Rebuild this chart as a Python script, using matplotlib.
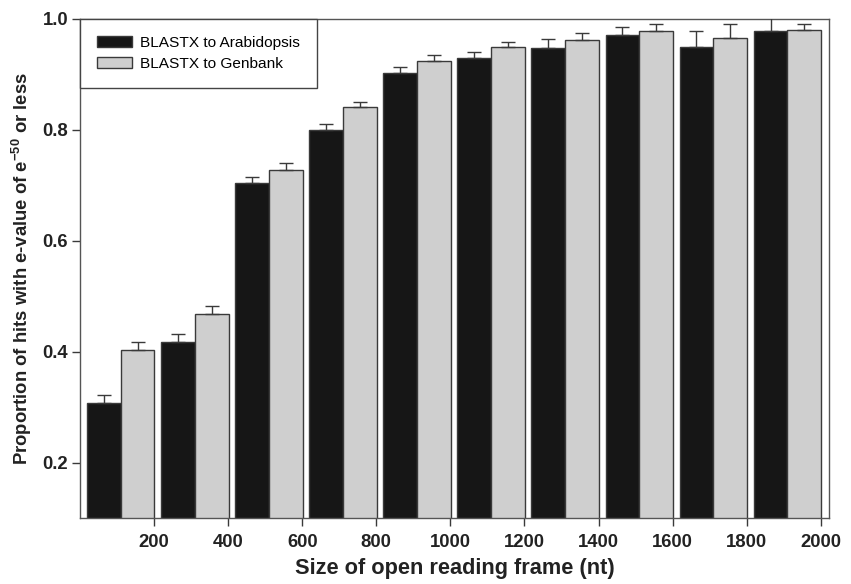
import numpy as np
import matplotlib
matplotlib.use('Agg')
import matplotlib.pyplot as plt

plt.rcParams['font.family'] = ['Liberation Sans', 'DejaVu Sans']
plt.rcParams['mathtext.fontset'] = 'custom'
plt.rcParams['mathtext.rm'] = 'Liberation Sans:bold'
plt.rcParams['mathtext.default'] = 'rm'

# ORF size bins (upper edge, nt)
bins = [200, 400, 600, 800, 1000, 1200, 1400, 1600, 1800, 2000]
arab = [0.307, 0.418, 0.704, 0.799, 0.903, 0.929, 0.948, 0.971, 0.949, 0.977]
arab_err = [0.015, 0.014, 0.011, 0.011, 0.010, 0.011, 0.015, 0.014, 0.029, 0.030]
genbank = [0.402, 0.467, 0.727, 0.840, 0.924, 0.949, 0.961, 0.978, 0.966, 0.980]
genbank_err = [0.016, 0.015, 0.012, 0.010, 0.010, 0.009, 0.013, 0.012, 0.024, 0.010]

edge = '#3a3a3a'
w = 91
x = np.array(bins)

fig = plt.figure(figsize=(8.51, 5.84), dpi=100)
ax = fig.add_axes([0.094, 0.113, 0.880, 0.855])

ax.bar(x - 181, arab, width=w, align='edge', bottom=0, color='#161616',
       edgecolor=edge, linewidth=1, label='BLASTX to Arabidopsis', zorder=2)
ax.bar(x - 90, genbank, width=w, align='edge', bottom=0, color='#cfcfcf',
       edgecolor=edge, linewidth=1, label='BLASTX to Genbank', zorder=2)

ax.errorbar(x - 181 + w / 2, arab, yerr=[np.zeros(len(arab)), arab_err],
            fmt='none', ecolor=edge, elinewidth=1, capsize=5, capthick=1, zorder=3)
ax.errorbar(x - 90 + w / 2, genbank, yerr=[np.zeros(len(genbank)), genbank_err],
            fmt='none', ecolor=edge, elinewidth=1, capsize=5, capthick=1, zorder=3)

ax.set_xlim(0, 2022)
ax.set_ylim(0.1, 1.0)
ax.set_xticks(bins)
ax.set_yticks([0.2, 0.4, 0.6, 0.8, 1.0])
ax.set_yticklabels(['0.2', '0.4', '0.6', '0.8', '1.0'])
ax.tick_params(direction='out', length=6, width=1, color=edge,
               labelsize=13.3, top=False, right=False)
ax.tick_params(axis='x', pad=5.5)
ax.tick_params(axis='y', pad=2.5)
for lab in ax.get_xticklabels() + ax.get_yticklabels():
    lab.set_fontweight('bold')
    lab.set_color('#222222')
for s in ax.spines.values():
    s.set_color('#555555')
    s.set_linewidth(1)

ax.set_xlabel('Size of open reading frame (nt)', fontsize=15.7,
              fontweight='bold', color='#222222', labelpad=5)
ax.set_ylabel(r'Proportion of hits with e-value of e$^{-50}$ or less',
              fontsize=13.3, fontweight='bold', color='#222222', labelpad=6)

leg = ax.legend(loc='upper left', bbox_to_anchor=(0, 1), borderaxespad=0,
                fancybox=False, framealpha=1, edgecolor='#444444',
                fontsize=11.1, handlelength=2.3, handleheight=0.75,
                borderpad=1.1, labelspacing=0.45, handletextpad=0.5)
leg.get_frame().set_linewidth(1)

fig.savefig('out.png', dpi=100)
